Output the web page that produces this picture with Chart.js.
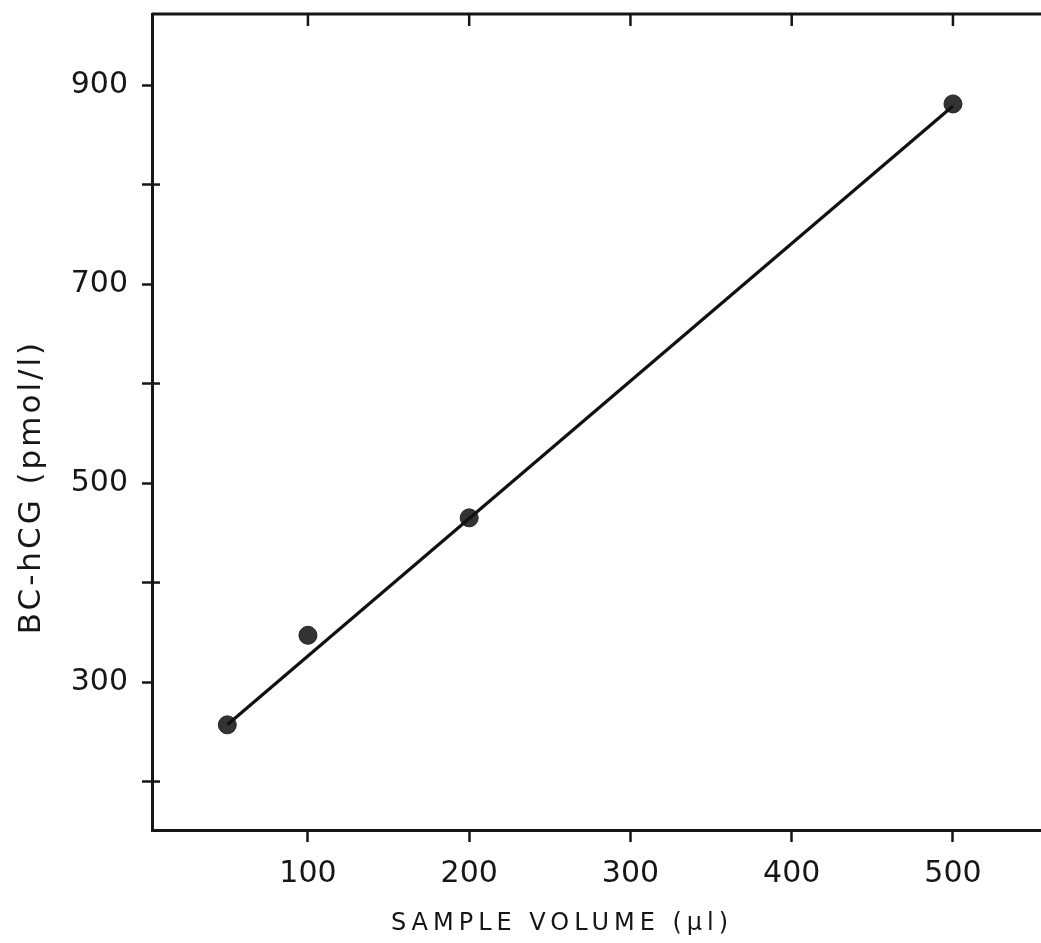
<!DOCTYPE html>
<html>
<head>
<meta charset="utf-8">
<script src="https://cdn.jsdelivr.net/npm/chart.js@4"></script>
<style>
  html, body { margin: 0; padding: 0; background: #fff; }
  canvas { display: block; }
</style>
</head>
<body>
<canvas id="hcgChart" width="1041" height="943"></canvas>
<script>
// measured points
const sampleVolume = [50, 100, 200, 500];
const hcgValues = [257, 347, 465, 881];

// fitted line ends
const fitVolume = [50, 500];
const fitHcg = [257, 879];

const xTicks = [100, 200, 300, 400, 500];
const yTicks = [200, 300, 400, 500, 600, 700, 800, 900];
const yLabelled = [300, 500, 700, 900];

const xTitle = 'SAMPLE VOLUME (\u00b5l)';
const yTitle = 'BC-hCG (pmol/l)';

const ink = '#161616';

// inner tick marks, top frame line and spaced axis titles
const framePlugin = {
    id: 'frame',
    afterDraw(chart) {
        const ctx = chart.ctx;
        const area = chart.chartArea;
        const xs = chart.scales.x;
        const ys = chart.scales.y;
        ctx.save();
        ctx.strokeStyle = ink;
        ctx.lineWidth = 3;
        ctx.beginPath();
        ctx.moveTo(area.left, area.top);
        ctx.lineTo(area.right, area.top);
        ctx.stroke();

        ctx.lineWidth = 2.5;
        xTicks.forEach(v => {
            const px = xs.getPixelForValue(v);
            ctx.beginPath();
            ctx.moveTo(px, area.top);
            ctx.lineTo(px, area.top + 12);
            ctx.stroke();
        });
        yTicks.filter(v => !yLabelled.includes(v)).forEach(v => {
            const py = ys.getPixelForValue(v);
            ctx.beginPath();
            ctx.moveTo(area.left, py);
            ctx.lineTo(area.left + 8, py);
            ctx.stroke();
        });

        ctx.fillStyle = ink;
        ctx.font = '24px "DejaVu Sans"';
        ctx.letterSpacing = '5px';
        ctx.textAlign = 'center';
        ctx.textBaseline = 'alphabetic';
        ctx.fillText(xTitle, 562, 930);

        ctx.font = '31px "DejaVu Sans"';
        ctx.letterSpacing = '3px';
        ctx.translate(40, 487);
        ctx.rotate(-Math.PI / 2);
        ctx.fillText(yTitle, 0, 0);
        ctx.restore();
    }
};

function drawChart() {
    const ctx = document.getElementById('hcgChart').getContext('2d');

    new Chart(ctx, {
        type: 'scatter',
        data: {
            datasets: [
                {
                    label: 'fit',
                    type: 'line',
                    data: fitVolume.map((v, i) => ({ x: v, y: fitHcg[i] })),
                    borderColor: '#111',
                    borderWidth: 3.2,
                    pointRadius: 0,
                    fill: false
                },
                {
                    label: 'BC-hCG',
                    data: sampleVolume.map((v, i) => ({ x: v, y: hcgValues[i] })),
                    backgroundColor: '#333',
                    borderColor: '#222',
                    borderWidth: 1,
                    pointRadius: 9
                }
            ]
        },
        options: {
            responsive: false,
            animation: false,
            layout: { autoPadding: false, padding: { top: 14, left: 0, right: 0, bottom: 0 } },
            plugins: {
                legend: { display: false },
                tooltip: { enabled: false }
            },
            scales: {
                x: {
                    type: 'linear',
                    position: 'bottom',
                    min: 3.3,
                    max: 554.6,
                    afterBuildTicks: s => { s.ticks = xTicks.map(v => ({ value: v })); },
                    afterFit: s => {
                        s.height = 113;
                        s.paddingLeft = 0;
                        s.paddingRight = 0;
                    },
                    ticks: {
                        color: ink,
                        padding: 14,
                        font: { family: 'DejaVu Sans', size: 30 }
                    },
                    grid: {
                        drawOnChartArea: false,
                        tickLength: 12,
                        tickWidth: 2.5,
                        tickColor: ink
                    },
                    border: { color: ink, width: 3 }
                },
                y: {
                    type: 'linear',
                    position: 'left',
                    min: 151.3,
                    max: 971.4,
                    afterBuildTicks: s => { s.ticks = yTicks.map(v => ({ value: v })); },
                    afterFit: s => {
                        s.width = 152;
                        s.paddingTop = 0;
                        s.paddingBottom = 0;
                    },
                    ticks: {
                        color: ink,
                        padding: 14,
                        font: { family: 'DejaVu Sans', size: 30 },
                        callback: v => yLabelled.includes(v) ? String(v) : ''
                    },
                    grid: {
                        drawOnChartArea: false,
                        tickLength: 10,
                        tickWidth: 2.5,
                        tickColor: ink
                    },
                    border: { color: ink, width: 3 }
                }
            }
        },
        plugins: [framePlugin]
    });
}

drawChart();
</script>
</body>
</html>
